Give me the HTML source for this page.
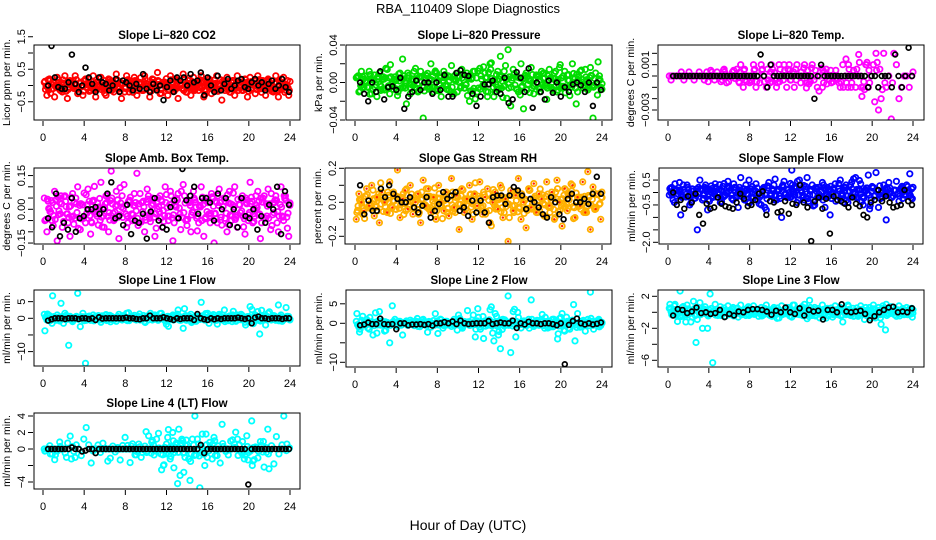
<!DOCTYPE html>
<html><head><meta charset="utf-8">
<style>
html,body{margin:0;padding:0;background:#fff;}
svg{display:block;font-family:"Liberation Sans",Arial,sans-serif;}
</style></head>
<body>
<svg id="chart" width="936" height="540" viewBox="0 0 936 540" xmlns="http://www.w3.org/2000/svg">
<rect x="0" y="0" width="936" height="540" fill="#fff"/>
<text x="468" y="13" text-anchor="middle" font-size="13">RBA_110409  Slope Diagnostics</text>
<text x="468" y="530" text-anchor="middle" font-size="14">Hour of Day (UTC)</text>
</svg>
<script>
// ---- data (hour-of-day samples) ----
const xTicks = [0,4,8,12,16,20,24];
const xTickLabels = ["0","4","8","12","16","20","24"];

const co2Color = [0.1,-0.3,0.2,-0.1,-0.35,0.25,0.0,-0.2,0.3,-0.4,0.15,-0.05,0.3,-0.25,0.1,-0.3,0.2,0.05,-0.15,0.3,-0.35,0.0,0.25,-0.1,
-0.3,0.2,0.1,-0.2,0.35,-0.05,-0.4,0.15,0.3,-0.2,0.0,0.25,-0.3,0.1,-0.15,0.3,0.05,-0.35,0.2,-0.1,0.4,-0.25,0.1,0.0,
-0.3,0.3,-0.1,0.2,-0.4,0.05,0.35,-0.2,0.15,-0.3,0.25,0.0,-0.15,0.3,-0.35,0.1,0.2,-0.25,0.0,0.3,-0.1,-0.45,0.15,0.25,
-0.2,0.1,-0.3,0.3,0.0,-0.15,0.2,-0.35,0.25,0.05,-0.25,0.3,-0.1,0.15,-0.3,0.2,0.0,-0.2,0.3,-0.35,0.1,0.25,-0.15,-0.3];
const co2Black = [0.0,1.7,0.25,-0.05,-0.1,-0.1,0.1,0.95,0.05,-0.2,0.0,0.55,0.25,0.05,-0.2,0.25,0.1,0.05,-0.15,0.0,0.2,-0.2,0.15,0.1,0.0,-0.15,0.05,-0.1,0.35,-0.1,-0.2,0.05,-0.15,0.0,-0.45,-0.05,0.15,-0.2,0.25,0.15,0.25,0.0,0.35,0.1,0.15,0.4,-0.3,0.25,0.0,-0.2,0.3,-0.15,0.05,0.2,-0.1,0.0,0.15,0.2,-0.05,-0.1,0.1,0.2,0.0,0.1,-0.15,0.05,0.15,-0.1,0.0,0.2,-0.05,-0.2];

const presColor = [0.005,-0.01,0.012,-0.005,0.0,0.012,-0.012,0.008,-0.015,0.01,0.003,-0.008,0.014,-0.012,0.0,0.006,-0.014,0.01,0.025,-0.006,0.01,-0.012,0.004,0.015,
-0.01,0.012,-0.038,0.008,-0.004,0.02,-0.01,0.01,0.002,-0.015,0.012,0.006,-0.008,0.018,-0.012,0.01,0.0,0.014,-0.006,0.01,-0.02,0.005,0.012,-0.01,
0.015,-0.004,0.01,-0.015,0.02,0.0,-0.01,0.012,0.028,-0.016,0.018,0.035,-0.025,0.014,0.006,-0.01,0.02,-0.028,0.01,0.004,0.016,-0.012,0.008,-0.006,
0.012,0.01,-0.018,0.014,0.0,0.01,-0.01,0.016,-0.004,0.012,0.008,-0.014,0.02,0.005,-0.01,0.012,0.0,0.014,-0.008,0.016,-0.038,0.01,0.022,-0.005];
const presBlack = [0.0,-0.012,-0.02,0.0,-0.01,0.012,-0.018,-0.005,-0.004,-0.008,0.005,-0.028,-0.015,-0.01,0.002,-0.008,0.0,0.0,-0.012,0.0,-0.008,0.008,-0.015,-0.015,0.01,0.013,0.008,0.007,-0.012,-0.025,-0.015,-0.002,-0.002,0.002,-0.01,-0.012,0.005,-0.022,-0.018,0.011,0.005,-0.01,0.015,-0.027,0.0,-0.01,-0.018,0.002,-0.011,0.0,-0.015,-0.005,-0.01,-0.002,0.0,-0.003,-0.01,0.0,-0.025,0.0,-0.008];

const tempColor = [0,0,0,0,0,0,0,0,0,0,0,0,0,0,0,0,0,0,0,0,0,0,0,0,0,0,0,0,0.001,-0.001,0,0,0,0.001,-0.001,0,0.001,0,-0.001,0,0.001,0,-0.001,0.001,0,0.001,-0.001,0.001,0,-0.001,0.001,0,0,0.001,-0.0006,0,0.001,0,-0.001,0,-0.001,0,0,0,0,0,0,-0.001,0.001,0,-0.001,0,0,-0.001,0,0,-0.001,0.001,-0.001,0,0.001,0.002,-0.003,-0.002,0.002,-0.001,0,-0.0038,0.002,0.001,-0.002,-0.001,0,0,-0.001,0];
const tempBlack = [0,0,0,0,0,0,0,0,0,0,0,0,0,0,0,0,0,0,0,0,0,0,0,0,0,0,0.0019,0,-0.001,0.001,0,0,0,0,0,0,0,0,0,0,0,0,-0.002,0,0.001,0,0,0,0,0,0,0,0,0,0,0,0,0,-0.001,0,0,-0.001,0,0,0,-0.001,0.0019,0,-0.001,0,0.0025,0];

const ambColor = [0.05,-0.1,0.0,-0.05,0.08,-0.14,0.03,-0.08,0.06,-0.02,-0.12,0.07,-0.04,0.1,-0.09,0.02,-0.06,0.09,-0.11,0.04,0.0,-0.07,0.12,-0.03,
0.06,-0.1,0.17,-0.05,0.08,-0.13,0.01,0.11,-0.08,0.04,-0.02,0.07,0.16,-0.06,0.03,-0.1,0.09,-0.04,0.05,-0.12,0.0,0.06,-0.08,0.1,
-0.03,0.08,-0.14,0.02,0.07,-0.09,0.11,-0.05,0.04,-0.1,0.08,0.01,-0.06,0.1,-0.12,0.05,-0.02,0.07,-0.16,0.03,0.09,-0.07,0.05,-0.1,
0.08,-0.03,0.1,-0.08,0.02,0.06,-0.11,0.04,0.12,-0.06,0.0,0.08,-0.13,0.05,-0.04,0.09,-0.09,0.03,0.06,-0.1,0.1,-0.05,0.04,-0.12];
const ambBlack = [-0.04,-0.08,0.07,-0.12,-0.06,-0.09,0.05,-0.1,-0.04,-0.03,0.0,0.0,0.01,-0.02,0.0,0.07,0.12,-0.04,-0.03,-0.07,0.02,-0.11,-0.05,-0.06,-0.02,-0.13,-0.01,0.05,-0.05,-0.08,-0.09,0.01,0.04,-0.04,0.18,0.04,0.06,0.1,-0.02,0.05,0.05,0.03,-0.05,0.07,0.0,0.05,-0.07,0.0,-0.08,0.05,-0.03,-0.04,0.0,-0.09,-0.03,-0.06,0.02,0.0,0.1,-0.11,0.08,0.02];

const rhColor = [-0.1,0.05,0.0,-0.05,0.08,-0.02,0.1,-0.08,0.03,-0.12,0.06,0.0,-0.06,0.12,-0.03,0.04,0.19,-0.09,0.02,0.07,-0.04,0.1,-0.07,0.0,
0.05,-0.12,0.13,-0.02,0.08,-0.06,0.03,-0.1,0.1,0.0,-0.05,0.06,-0.08,0.14,-0.03,0.04,-0.16,0.08,-0.06,0.02,0.1,-0.1,0.05,-0.02,
0.12,-0.07,0.03,0.08,-0.12,0.0,0.06,-0.04,0.1,-0.09,0.02,-0.23,0.07,-0.05,0.04,0.14,-0.1,0.0,-0.15,0.08,-0.03,0.11,-0.06,0.05,
0.02,-0.08,0.12,-0.02,0.06,-0.1,0.13,0.0,-0.14,0.08,-0.05,0.04,0.1,-0.09,0.03,-0.02,0.12,-0.06,0.18,-0.16,0.09,-0.04,0.05,-0.1];
const rhBlack = [0.1,-0.07,0.01,-0.05,-0.05,0.08,0.03,0.1,0.05,0.02,0.0,0.0,0.03,-0.03,-0.06,-0.02,0.03,-0.09,-0.05,-0.01,0.06,0.02,0.04,0.06,-0.05,-0.03,-0.08,0.01,-0.06,0.01,-0.06,-0.12,0.03,0.04,0.04,-0.01,0.04,0.09,0.07,0.04,-0.04,0.02,0.0,-0.03,-0.07,-0.09,0.03,0.0,-0.07,-0.1,0.02,0.05,0.0,0.0,0.02,-0.01,0.05,0.15,0.05];

const flowColor = [-0.1,0.2,-0.4,0.1,0.4,-0.2,0.0,0.3,-0.5,0.15,-0.1,-1.5,0.5,-0.3,0.2,-0.7,0.1,-0.2,0.35,0.0,-0.4,0.25,-0.1,0.45,
0.1,-0.3,0.2,-0.6,0.6,-0.05,0.3,-0.4,0.15,-0.2,0.35,0.0,-0.5,0.2,-0.7,0.4,-0.1,0.3,-0.3,0.1,-1.0,0.45,-0.2,0.0,
0.9,0.2,-0.4,0.5,0.0,-0.3,0.6,-0.1,0.3,-0.5,0.15,-0.2,0.4,-0.6,0.2,-0.9,0.0,0.35,-0.3,0.5,-0.1,0.2,-0.4,0.3,
0.0,0.6,-0.2,0.35,-0.5,0.1,0.7,-0.3,0.2,0.8,-0.6,0.0,0.3,-1.1,0.4,-0.2,0.1,0.45,-0.35,0.2,-0.1,0.3,0.0,0.15];
const flowBlack = [0.0,-0.5,-0.3,-0.65,-0.15,-0.4,-0.05,-0.9,-1.25,-0.45,-0.65,-0.6,-0.2,-0.45,-0.55,-0.6,-0.65,-0.4,-0.05,-0.25,-0.55,-0.5,-0.3,-0.05,0.05,-0.9,-0.35,-0.4,-0.8,-0.75,-0.35,-0.85,-0.45,-0.5,0.3,-0.4,-0.6,-1.95,-0.35,-0.2,-0.65,-0.25,-1.65,-0.15,-0.3,-0.35,-0.45,-0.6,-0.2,-0.45,-0.55,-0.9,-1.0,-0.4,-0.3,0.1,-0.35,-0.15,-0.4,-0.6,-0.55,-0.5,0.1,-0.35,-0.5];

const line1Color = [1.2,-0.5,0.8,-1.5,0.3,1.0,-0.8,0.5,1.5,-0.3,0.6,-1.0,0.2,7.5,-2.5,1.5,-13.5,0.4,-0.6,1.0,-0.2,0.8,-1.2,0.3,
1.1,-0.5,0.6,0.0,-0.9,1.2,0.4,-0.3,1.5,-0.7,0.2,0.9,-0.4,1.3,0.0,-1.0,0.7,0.3,-0.5,1.0,-0.2,1.4,0.5,-0.8,
0.6,-0.3,1.0,0.2,2.5,-0.6,-3.0,0.8,-0.4,1.2,0.1,-0.9,0.6,4.8,-0.3,1.0,-1.5,0.4,0.9,-0.6,1.2,0.0,2.5,-0.5,
0.7,-1.0,0.3,1.0,-0.4,0.8,-1.2,0.5,3.5,-1.5,1.0,2.0,-0.8,0.6,-2.0,1.5,0.0,0.8,-0.6,4.0,1.0,-0.4,3.2,0.5];
const line1Black = [-0.7,-0.3,0.0,0.0,0.0,-0.2,0.0,0.0,0.0,-0.2,0.0,0.0,-0.2,0.0,-0.5,0.3,-0.1,0.0,0.0,0.0,0.0,0.0,0.0,0.2,0.0,0.0,-0.2,-0.3,0.0,0.0,0.8,0.0,0.0,0.0,0.3,0.0,-0.2,-0.5,0.0,-0.2,0.0,0.0,0.0,-0.5,1.3,0.0,-0.3,-0.5,0.0,-0.3,0.0,-0.2,0.0,0.0,0.0,0.0,0.2,0.0,-0.2,0.0,-1.5,0.2,0.5,0.0,0.0,-0.2,0.0,0.0,0.0,-0.2,0.0,0.0];

const line2Color = [0.5,-1.0,0.8,-0.3,1.0,-1.5,0.4,-0.6,-2.5,3.0,0.6,-2.0,0.2,-5.0,4.5,1.0,-0.8,0.5,-3.0,0.0,-0.5,0.8,-0.2,0.6,
-0.8,0.3,1.0,-0.5,0.2,-1.0,0.7,0.0,-0.4,0.9,-0.6,0.3,0.0,-0.8,1.0,-0.2,0.5,-0.9,0.4,0.0,-0.5,0.8,-0.3,0.6,
-1.0,0.3,0.6,-0.5,3.5,-2.5,2.5,-0.8,-6.5,1.0,-0.3,7.0,-7.5,3.0,-3.5,1.5,-1.2,0.6,-0.4,1.0,6.0,-0.8,0.3,-0.5,
1.0,-0.6,0.4,-1.0,0.8,0.0,-0.3,1.2,2.5,-2.0,0.5,-1.5,0.8,-4.5,2.5,-1.0,0.4,-2.0,1.0,8.0,-0.5,0.3,0.8,-0.6];
const line2Black = [-0.5,-0.3,0.2,-0.2,-0.2,1.2,-0.2,-0.3,-0.2,-1.5,0.0,0.0,-0.5,-0.3,-0.3,-0.2,-0.4,-0.2,-0.6,0.0,0.0,0.3,0.0,0.5,-0.2,0.7,0.0,-0.2,-0.1,0.0,0.0,0.0,0.6,-0.2,0.0,0.2,0.0,0.0,0.7,-1.2,0.0,-0.3,0.4,0.0,0.0,-0.2,0.0,0.0,-0.2,-0.5,0.0,-10.5,-0.4,0.6,1.2,0.0,-0.3,0.0,-0.3,-0.1,0.2];

const line3Color = [0.5,-0.3,0.8,0.0,-0.5,0.6,-0.2,0.9,0.3,-0.6,0.5,-0.9,1.2,-2.0,0.7,-2.0,2.3,-6.3,1.0,-0.4,0.7,0.2,-0.5,0.8,
-0.3,0.6,0.0,-0.6,0.9,0.2,-0.4,0.7,-0.2,0.8,0.1,-0.5,0.6,-0.3,0.9,0.0,-0.4,0.6,0.2,-0.7,0.8,-0.2,0.5,0.0,
-0.6,0.9,0.2,-0.3,0.7,1.0,-0.8,1.5,-0.4,0.6,0.0,-0.7,0.9,-0.2,0.5,0.1,-0.6,0.8,-0.3,0.6,-1.2,0.2,0.9,-0.4,
0.5,0.0,-0.5,0.8,-0.2,0.6,0.3,-0.7,0.9,-0.3,0.6,-1.5,0.4,1.0,-0.2,0.7,0.0,-0.5,0.8,0.3,-0.3,0.6,0.1,0.5];
const line3Black = [-0.4,0.4,0.3,-0.1,0.1,0.6,-0.1,0.0,-0.2,-0.1,0.3,-0.6,-0.2,-0.4,0.1,0.0,0.3,0.4,0.4,0.3,0.1,-0.3,0.2,0.0,0.6,0.0,-0.2,0.5,-0.4,0.3,0.1,0.2,-0.9,0.3,0.3,0.0,1.0,0.1,0.0,0.1,0.2,-0.2,-1.0,-0.5,0.0,0.3,0.6,0.7,0.0,0.1,0.0,0.5];

const line4Color = [0,0,0,0,0,0,0,0,0,-1.0,0,-1.2,-0.3,0.5,0,-0.8,1.2,2.6,0.5,-1.7,0,0,0,0,
0,0,0,0,0,0,0,0,0,0,0,0,0,0,0,0,0,0,0,0,0,0,0,0,
-0.7,0,1.4,-1.2,2.0,0.2,-4.2,-3.2,1.0,-1.0,0.5,-3.8,1.2,4.0,1.2,-4.7,1.8,-2.0,-1.0,0.8,-1.2,1.0,-0.8,0,
3.0,0,0,0,0,0.6,0,0.5,-0.5,-1.2,1.6,0,3.4,-1.3,0,0,0,-2.2,-0.4,-2.4,0.4,-1.8,1.5,-0.6,0,4.0,-0.2,0];
const line4Black = [0,0,0,0,0,0,0,0.2,0,0,-0.3,-0.2,0,0,-0.5,0,0,0,0,0,0,0,0,0,0,0,0,0,0,0,0,0,0,0,0,0,0,0,0,0,0,0,0,0,0,0.5,-0.5,0,0,0,0,0,0,0,0,0,0,0,0,-4.3,0,0,0,0,0,0,0,0,0,0,0,0];

// ---- layout (pixel geometry, not data) ----
const panels = [
 {name:"co2", title:"Slope Li\u2212820 CO2", ylab:"Licor ppm per min.", box:[34,45,300,120], x0:43, x24:290, yref:0, ypx:85.5, ppu:32.5, ticks:[1.5,1,0.5,0,-0.5], labels:{"1.5":"1.5","0.5":"0.5","-0.5":"\u22120.5"}, color:"#ff0000", c:co2Color, b:co2Black},
 {name:"pressure", title:"Slope Li\u2212820 Pressure", ylab:"kPa per min.", box:[346,45,612,120], x0:355, x24:602, yref:0, ypx:82.5, ppu:937.5, ticks:[0.04,0.02,0,-0.02,-0.04], labels:{"0.04":"0.04","0":"0.00","-0.04":"\u22120.04"}, color:"#00dd00", c:presColor, b:presBlack},
 {name:"temp", title:"Slope Li\u2212820 Temp.", ylab:"degrees C per min.", box:[658,45,924,120], x0:668, x24:913, yref:0, ypx:76, ppu:11333, ticks:[0.002,0.001,0,-0.001,-0.002,-0.003], labels:{"0.001":"0.001","-0.003":"\u22120.003"}, color:"#ff00ff", c:tempColor, b:tempBlack},
 {name:"amb-box-temp", title:"Slope Amb. Box Temp.", ylab:"degrees C per min.", box:[34,168,300,244], x0:43, x24:290, yref:0, ypx:209.3, ppu:225, ticks:[0.15,0.1,0.05,0,-0.05,-0.1,-0.15], labels:{"0.15":"0.15","0":"0.00","-0.15":"\u22120.15"}, color:"#ff00ff", c:ambColor, b:ambBlack},
 {name:"gas-stream-rh", title:"Slope Gas Stream RH", ylab:"percent per min.", box:[345,168,611,244], x0:355, x24:602, yref:0, ypx:202.3, ppu:170, ticks:[0.2,0.1,0,-0.1,-0.2], labels:{"0.2":"0.2","0":"0.0","-0.2":"\u22120.2"}, color:"#ffb000", c:rhColor, b:rhBlack},
 {name:"sample-flow", title:"Slope Sample Flow", ylab:"ml/min per min.", box:[659,168,923,244], x0:668, x24:913, yref:0, ypx:192.5, ppu:24.9, ticks:[0.5,0,-0.5,-1,-1.5,-2], labels:{"0.5":"0.5","-0.5":"\u22120.5","-2":"\u22122.0"}, color:"#0000ff", c:flowColor, b:flowBlack},
 {name:"line-1-flow", title:"Slope Line 1 Flow", ylab:"ml/min per min.", box:[34,290,300,366], x0:43, x24:290, yref:0, ypx:318.3, ppu:3.33, ticks:[5,0,-5,-10], labels:{"5":"5","0":"0","-10":"\u221210"}, color:"#00ffff", c:line1Color, b:line1Black},
 {name:"line-2-flow", title:"Slope Line 2 Flow", ylab:"ml/min per min.", box:[346,290,612,367], x0:355, x24:602, yref:0, ypx:323.3, ppu:3.9, ticks:[5,0,-5,-10], labels:{"5":"5","0":"0","-10":"\u221210"}, color:"#00ffff", c:line2Color, b:line2Black},
 {name:"line-3-flow", title:"Slope Line 3 Flow", ylab:"ml/min per min.", box:[658,290,924,367], x0:668, x24:913, yref:0, ypx:312.3, ppu:8, ticks:[2,0,-2,-4,-6], labels:{"2":"2","-2":"\u22122","-6":"\u22126"}, color:"#00ffff", c:line3Color, b:line3Black},
 {name:"line-4-lt-flow", title:"Slope Line 4 (LT) Flow", ylab:"ml/min per min.", box:[34,413,300,489], x0:43, x24:290, yref:0, ypx:449, ppu:8.25, ticks:[4,2,0,-2,-4], labels:{"4":"4","2":"2","0":"0","-4":"\u22124"}, color:"#00ffff", c:line4Color, b:line4Black}
];
// relative copies that thicken each dense cloud (fraction of a neighbouring reading)
const cloudCopies = [[0.12, 7, 0.6], [0.06, 13, -0.5], [0.18, 29, 0.35]];

const NS = "http://www.w3.org/2000/svg";
const svg = document.getElementById("chart");
function mk(tag, attrs, parent){
  const e = document.createElementNS(NS, tag);
  for (const k in attrs) e.setAttribute(k, attrs[k]);
  parent.appendChild(e);
  return e;
}

panels.forEach(p => {
  const [L,T,R,B] = p.box;
  const xs = h => p.x0 + (p.x24 - p.x0) * h / 24;
  const ys = v => p.ypx - (v - p.yref) * p.ppu;
  const clipY = y => Math.max(T+1, Math.min(B-1, y));

  const g = mk("g", {}, svg);
  
  

  const cid = "clip-" + p.name;
  const cp = mk("clipPath", {id: cid}, g);
  mk("rect", {x: L, y: T, width: R-L, height: B-T}, cp);

  const title = mk("text", {x: (L+R)/2, y: T-6, "text-anchor": "middle", "font-size": "11.5", "font-weight": "bold"}, g);
  title.textContent = p.title;
  
  

  const yl = mk("text", {x: 0, y: 0, "text-anchor": "middle", "font-size": "10.5", transform: `translate(${L-24},${(T+B)/2}) rotate(-90)`}, g);
  yl.textContent = p.ylab;
  
  

  const gc = mk("g", {"clip-path": `url(#${cid})`}, g);
  
  
  const n = p.c.length;
  p.c.forEach((v, i) => {
    const h = (i + 0.5) * 24 / n;
    const c = mk("circle", {cx: xs(h).toFixed(1), cy: clipY(ys(v)).toFixed(1), r: 2.7, fill: "none", stroke: p.color, "stroke-width": 1.8}, gc);
    
    
  });
  cloudCopies.forEach(cc => {
    p.c.forEach((v, i) => {
      const h = Math.min(24, (i + 0.5) * 24 / n + cc[0]);
      const v2 = p.c[(i + cc[1]) % n] * cc[2];
      if (Math.abs(v2) > 0) {
        const c = mk("circle", {cx: xs(h).toFixed(1), cy: clipY(ys(v2)).toFixed(1), r: 2.7, fill: "none", stroke: p.color, "stroke-width": 1.8}, gc);
        
        
      }
    });
  });
  if (p.name === "gas-stream-rh") {
    p.c.forEach((v, i) => {
      const h = (i + 0.5) * 24 / n;
      const c = mk("circle", {cx: xs(h).toFixed(1), cy: ys(v).toFixed(1), r: 1.2, fill: "#ff2200"}, gc);
      
      
    });
  }
  const gb = mk("g", {"clip-path": `url(#${cid})`}, g);
  
  
  const m = p.b.length;
  p.b.forEach((v, i) => {
    const h = 0.5 + i * 23.4 / (m - 1);
    const c = mk("circle", {cx: xs(h).toFixed(1), cy: clipY(ys(v)).toFixed(1), r: 2.4, fill: "none", stroke: "#000", "stroke-width": 1.7}, gb);
    
    
  });

  const box = mk("rect", {x: L, y: T, width: R-L, height: B-T, fill: "none", stroke: "#000", "stroke-width": 1}, g);
  
  

  xTicks.forEach((t, i) => {
    const x = xs(t);
    const tk = mk("line", {x1: x, x2: x, y1: B+1, y2: B+6, stroke: "#000", "stroke-width": 1}, g);
    
    
    const lb = mk("text", {x: x, y: B+21, "text-anchor": "middle", "font-size": "11"}, g);
    lb.textContent = xTickLabels[i];
    
    
  });
  p.ticks.forEach(t => {
    const y = ys(t);
    const tk = mk("line", {x1: L-6, x2: L-1, y1: y, y2: y, stroke: "#000", "stroke-width": 1}, g);
    
    
    const key = String(t);
    if (p.labels[key] !== undefined) {
      const lb = mk("text", {x: 0, y: 0, "text-anchor": "middle", "font-size": "11", transform: `translate(${L-9},${y}) rotate(-90)`}, g);
      lb.textContent = p.labels[key];
      
      
    }
  });
});
</script>
</body></html>
